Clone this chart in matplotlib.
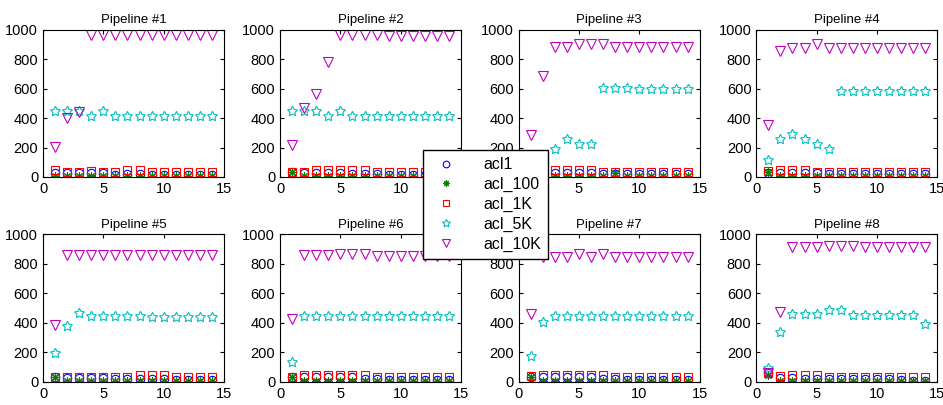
import matplotlib
matplotlib.use("Agg")
from matplotlib import pyplot as plt
import numpy as np

plt.rcParams['font.family'] = ['Liberation Sans', 'DejaVu Sans']

x = np.arange(1, 15)

series = ['acl1', 'acl_100', 'acl_1K', 'acl_5K', 'acl_10K']

# one list per pipeline
acl1 = [
    [25, 25, 25, 25, 25, 15, 20, 20, 15, 15, 15, 15, 15, 15],
    [35, 30, 30, 30, 30, 20, 20, 20, 15, 15, 15, 15, 15, 15],
    [25, 25, 25, 25, 25, 25, 20, 20, 20, 20, 20, 20, 20, 20],
    [30, 30, 30, 30, 30, 20, 20, 20, 20, 20, 20, 20, 20, 20],
    [30, 25, 25, 25, 25, 20, 20, 20, 20, 20, 15, 15, 15, 15],
    [30, 30, 30, 30, 30, 30, 20, 20, 15, 15, 15, 15, 15, 15],
    [30, 30, 30, 30, 30, 30, 20, 20, 15, 15, 15, 15, 15, 15],
    [60, 25, 25, 20, 20, 20, 20, 20, 20, 20, 20, 15, 5, 5],
]
acl_100 = [
    [5, 5, 5, 5, 5, 5, 5, 5, 5, 5, 5, 5, 5, 5],
    [35, 5, 5, 5, 5, 5, 5, 5, 5, 5, 5, 5, 5, 5],
    [5, 5, 5, 5, 5, 5, 5, 25, 5, 5, 5, 5, 5, 5],
    [35, 5, 5, 5, 5, 5, 5, 5, 5, 5, 5, 5, 5, 5],
    [35, 5, 5, 5, 5, 5, 5, 5, 5, 5, 5, 5, 5, 5],
    [35, 5, 5, 5, 5, 5, 5, 5, 5, 5, 5, 5, 5, 5],
    [35, 5, 5, 5, 5, 5, 5, 5, 5, 5, 5, 5, 5, 5],
    [50, 5, 5, 5, 5, 5, 5, 5, 5, 5, 5, 5, 5, 5],
]
acl_1K = [
    [45, 35, 35, 38, 35, 35, 45, 45, 35, 35, 35, 35, 35, 35],
    [35, 35, 45, 45, 45, 45, 45, 35, 35, 35, 35, 35, 35, 35],
    [40, 40, 45, 45, 45, 45, 35, 35, 35, 35, 35, 35, 35, 35],
    [40, 45, 45, 45, 35, 35, 35, 35, 35, 35, 35, 35, 35, 35],
    [35, 35, 35, 35, 35, 35, 35, 45, 45, 45, 35, 35, 35, 35],
    [35, 45, 45, 45, 45, 45, 45, 35, 35, 35, 35, 35, 35, 35],
    [40, 45, 45, 45, 45, 45, 45, 35, 35, 35, 35, 35, 35, 35],
    [60, 40, 45, 45, 45, 35, 35, 35, 35, 35, 35, 35, 35, 35],
]
acl_5K = [
    [450, 450, 450, 415, 450, 415, 415, 415, 415, 415, 415, 415, 415, 415],
    [450, 450, 450, 415, 450, 415, 415, 415, 415, 415, 415, 415, 415, 415],
    [100, 130, 193, 255, 227, 227, 605, 605, 605, 600, 600, 600, 600, 600],
    [114, 256, 290, 256, 224, 190, 582, 582, 582, 582, 582, 582, 582, 582],
    [197, 378, 470, 445, 445, 445, 445, 445, 440, 440, 440, 440, 440, 440],
    [136, 445, 445, 445, 445, 445, 445, 445, 445, 445, 445, 445, 445, 445],
    [178, 406, 445, 445, 445, 445, 445, 445, 445, 445, 445, 445, 445, 445],
    [93, 336, 463, 463, 463, 486, 486, 451, 451, 451, 451, 451, 451, 394],
]
acl_10K = [
    [205, 400, 440, 960, 960, 960, 960, 960, 960, 960, 960, 960, 960, 960],
    [220, 470, 560, 780, 960, 960, 960, 960, 955, 955, 955, 955, 955, 955],
    [284, 686, 880, 880, 900, 900, 900, 880, 880, 880, 880, 880, 880, 880],
    [354, 854, 872, 872, 902, 872, 872, 872, 872, 872, 872, 872, 872, 872],
    [389, 860, 860, 860, 860, 860, 860, 860, 860, 860, 860, 860, 860, 860],
    [430, 860, 860, 860, 865, 865, 865, 855, 855, 855, 855, 855, 855, 855],
    [464, 847, 847, 847, 865, 847, 865, 847, 847, 847, 847, 847, 847, 847],
    [60, 475, 915, 915, 915, 925, 925, 925, 915, 915, 915, 915, 915, 915],
]

data = [acl1, acl_100, acl_1K, acl_5K, acl_10K]
markers = ['o', (8, 2, 0), 's', (5, 1, 0), 'v']
sizes = [6, 6, 6, 7.5, 6.5]
colors = ['#0000ff', '#007f00', '#ff0000', '#00bfbf', '#bf00bf']

fig = plt.figure(figsize=(9.43, 4.05), dpi=100)

lefts = [0.0456, 0.297, 0.550, 0.802]
bottoms = [0.563, 0.057]
w, h = 0.192, 0.364

for p in range(8):
    ax = fig.add_axes([lefts[p % 4], bottoms[p // 4], w, h])
    for k in range(5):
        ax.plot(x, data[k][p], linestyle='none', marker=markers[k],
                ms=sizes[k], mfc='none', mec=colors[k], mew=0.8,
                label=series[k])
    ax.set_xlim(0, 15)
    ax.set_ylim(0, 1000)
    ax.set_xticks([0, 5, 10, 15])
    ax.set_yticks([0, 200, 400, 600, 800, 1000])
    ax.tick_params(direction='in', top=True, right=True, labelsize=10.5, length=3)
    ax.set_title('Pipeline #%d' % (p + 1), fontsize=9.5, pad=5)
    if p == 0:
        handles, labels = ax.get_legend_handles_labels()

leg = fig.legend(handles, labels, loc='upper left',
                 bbox_to_anchor=(423 / 943, 1 - 150 / 405), borderaxespad=0,
                 fontsize=11.5, markerscale=0.8,
                 frameon=True, fancybox=False, edgecolor='black',
                 borderpad=0.45, labelspacing=0.3, handletextpad=1.3)
leg.get_frame().set_linewidth(1.0)
leg.get_frame().set_alpha(1)

plt.savefig('out.png', dpi=100)
